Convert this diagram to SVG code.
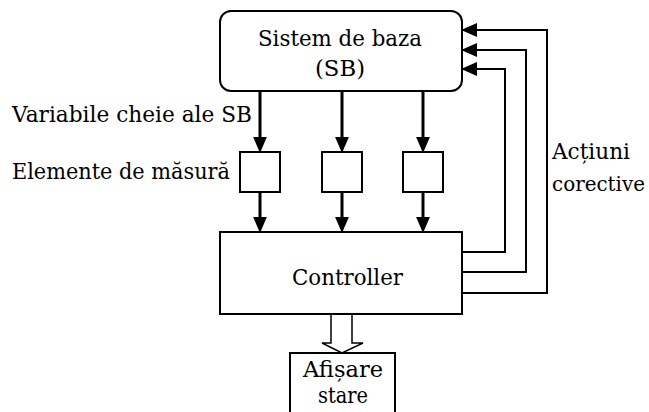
<svg xmlns="http://www.w3.org/2000/svg" width="649" height="412" viewBox="0 0 649 412">
<style>
.t{font-family:'DejaVu Serif','Liberation Serif',serif;font-size:22px;fill:#000}
.s{font-size:20px}
.box{fill:#fff;stroke:#000;stroke-width:2}
.thick{fill:none;stroke:#000;stroke-width:3}
.fb{fill:none;stroke:#000;stroke-width:2}
.thin{fill:none;stroke:#000;stroke-width:1.5}
</style>
<defs>
<marker id="ah" markerUnits="userSpaceOnUse" markerWidth="16" markerHeight="14" refX="1" refY="6.5" orient="auto" viewBox="0 0 15 13">
<path d="M0,0 L15,6.5 L0,13 z" fill="#000"/>
</marker>
</defs>
<rect width="649" height="412" fill="#fff"/>
<g id="connectors">
<path class="thick" d="M260,92 V138" marker-end="url(#ah)"/>
<path class="thick" d="M342,92 V138" marker-end="url(#ah)"/>
<path class="thick" d="M423,92 V138" marker-end="url(#ah)"/>
<path class="thick" d="M260,192 V218" marker-end="url(#ah)"/>
<path class="thick" d="M342,192 V218" marker-end="url(#ah)"/>
<path class="thick" d="M423,192 V218" marker-end="url(#ah)"/>
<path class="fb" d="M462,252 H505 V69 H476" marker-end="url(#ah)"/>
<path class="fb" d="M462,272 H526 V50 H476" marker-end="url(#ah)"/>
<path class="fb" d="M462,293 H547 V30 H476" marker-end="url(#ah)"/>
<path class="thin" d="M331,314 V343 H322 L342,353 L363,343 H352 V314"/>
</g>
<g id="sb">
<rect class="box" x="220" y="11" width="242" height="80" rx="11" ry="11"/>
<text class="t" x="340" y="46" text-anchor="middle" textLength="164" lengthAdjust="spacingAndGlyphs">Sistem de baza</text>
<text class="t" x="340" y="76" text-anchor="middle" textLength="50" lengthAdjust="spacingAndGlyphs">(SB)</text>
</g>
<g id="m1"><rect class="box" x="240" y="152" width="40" height="40"/></g>
<g id="m2"><rect class="box" x="322" y="152" width="40" height="40"/></g>
<g id="m3"><rect class="box" x="403" y="152" width="40" height="40"/></g>
<g id="controller">
<rect class="box" x="220" y="232" width="242" height="82"/>
<text class="t" x="292" y="285" textLength="111" lengthAdjust="spacingAndGlyphs">Controller</text>
</g>
<g id="afisare">
<rect class="box" x="290" y="353" width="105" height="62"/>
<text class="t" x="343" y="377" text-anchor="middle" textLength="80" lengthAdjust="spacingAndGlyphs">Afișare</text>
<text class="t" x="343" y="403" text-anchor="middle" textLength="50" lengthAdjust="spacingAndGlyphs">stare</text>
</g>
<g id="labels">
<text class="t" x="12" y="122" textLength="240" lengthAdjust="spacingAndGlyphs">Variabile cheie ale SB</text>
<text class="t" x="12" y="179" textLength="218" lengthAdjust="spacingAndGlyphs">Elemente de măsură</text>
<text class="t" x="552" y="159" textLength="78" lengthAdjust="spacingAndGlyphs">Acțiuni</text>
<text class="t s" x="552" y="191" textLength="93" lengthAdjust="spacingAndGlyphs">corective</text>
</g>
</svg>
